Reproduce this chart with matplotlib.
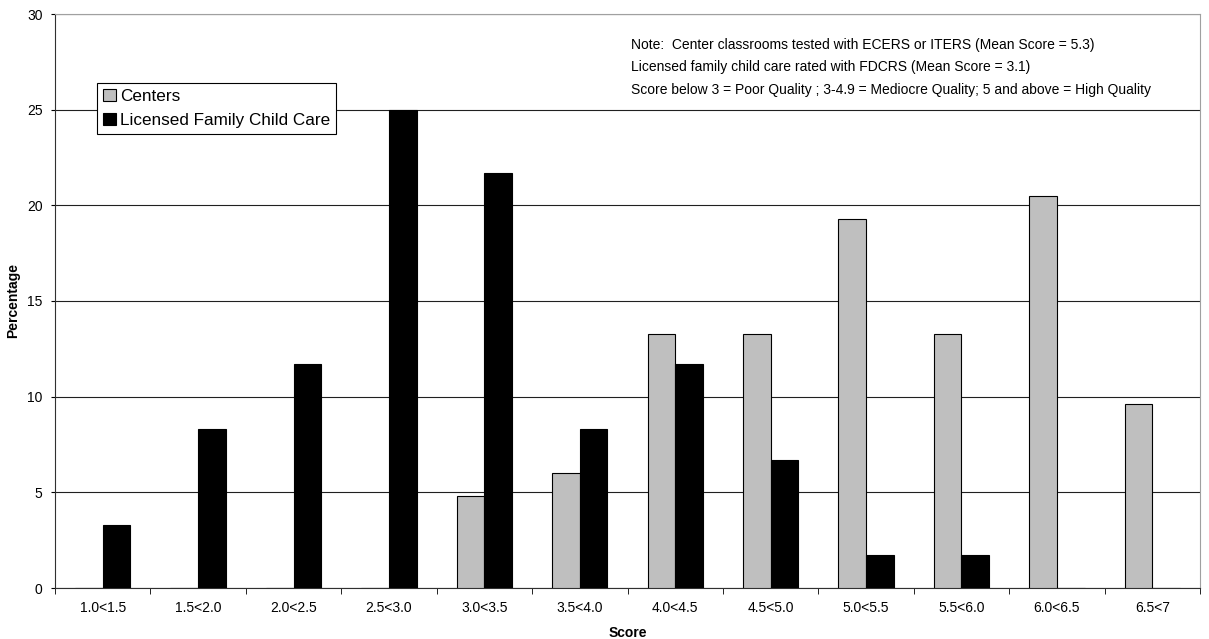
import matplotlib
matplotlib.use("Agg")
import matplotlib.pyplot as plt
import numpy as np

plt.rcParams['font.family'] = ['Liberation Sans', 'DejaVu Sans']

categories = ["1.0<1.5", "1.5<2.0", "2.0<2.5", "2.5<3.0", "3.0<3.5", "3.5<4.0",
              "4.0<4.5", "4.5<5.0", "5.0<5.5", "5.5<6.0", "6.0<6.5", "6.5<7"]
centers = [0, 0, 0, 0, 4.8, 6.0, 13.3, 13.3, 19.3, 13.3, 20.5, 9.6]
licensed = [3.3, 8.3, 11.7, 25.0, 21.7, 8.3, 11.7, 6.7, 1.7, 1.7, 0, 0]
y_ticks = [0, 5, 10, 15, 20, 25, 30]
note_lines = ["Note:  Center classrooms tested with ECERS or ITERS (Mean Score = 5.3)",
              "Licensed family child care rated with FDCRS (Mean Score = 3.1)",
              "Score below 3 = Poor Quality ; 3-4.9 = Mediocre Quality; 5 and above = High Quality"]

fig = plt.figure(figsize=(12.09, 6.39), dpi=100)
ax = fig.add_axes([55/1209, 1 - 588/639, 1145/1209, 574/639])

x = np.arange(len(categories))
w = 0.29
ax.bar(x - w/2, centers, w, color="#bfbfbf", edgecolor="black", linewidth=0.8,
       label="Centers", zorder=3)
ax.bar(x + w/2, licensed, w, color="black", edgecolor="black", linewidth=0.8,
       label="Licensed Family Child Care", zorder=3)

ax.set_xlim(-0.5, len(categories) - 0.5)
ax.set_ylim(0, 30)
ax.set_yticks(y_ticks)
ax.set_yticklabels([str(t) for t in y_ticks], fontsize=10)
ax.set_xticks(x)
ax.set_xticklabels(categories, fontsize=10)
ax.tick_params(axis='x', which='major', length=0, pad=9)
ax.set_xticks(np.arange(len(categories) + 1) - 0.5, minor=True)
ax.tick_params(axis='x', which='minor', length=4, direction='out', color='black')
ax.tick_params(axis='y', length=3, direction='out', color='black', pad=6)
ax.yaxis.grid(True, color='#202020', linewidth=0.8, zorder=0)
ax.set_axisbelow(True)

for s in ['top', 'right']:
    ax.spines[s].set_color('#a0a0a0')
ax.spines['left'].set_color('#303030')
ax.spines['bottom'].set_color('#303030')

ax.set_xlabel("Score", fontsize=10, fontweight='bold', labelpad=8)
ax.set_ylabel("Percentage", fontsize=10, fontweight='bold', labelpad=5)

leg = ax.legend(loc='upper left', bbox_to_anchor=(42/1145, 1 - 69/574), fontsize=12.3,
                frameon=True, fancybox=False, edgecolor='black', handlelength=0.75,
                handleheight=0.75, handletextpad=0.25, borderpad=0.35, labelspacing=0.5,
                borderaxespad=0)
leg.get_frame().set_linewidth(0.8)
leg.get_frame().set_alpha(1)

for i, line in enumerate(note_lines):
    fig.text(631/1209, 1 - (45 + 22.5*i)/639, line, fontsize=10, va='center', ha='left')

fig.savefig("out.png", dpi=100)
